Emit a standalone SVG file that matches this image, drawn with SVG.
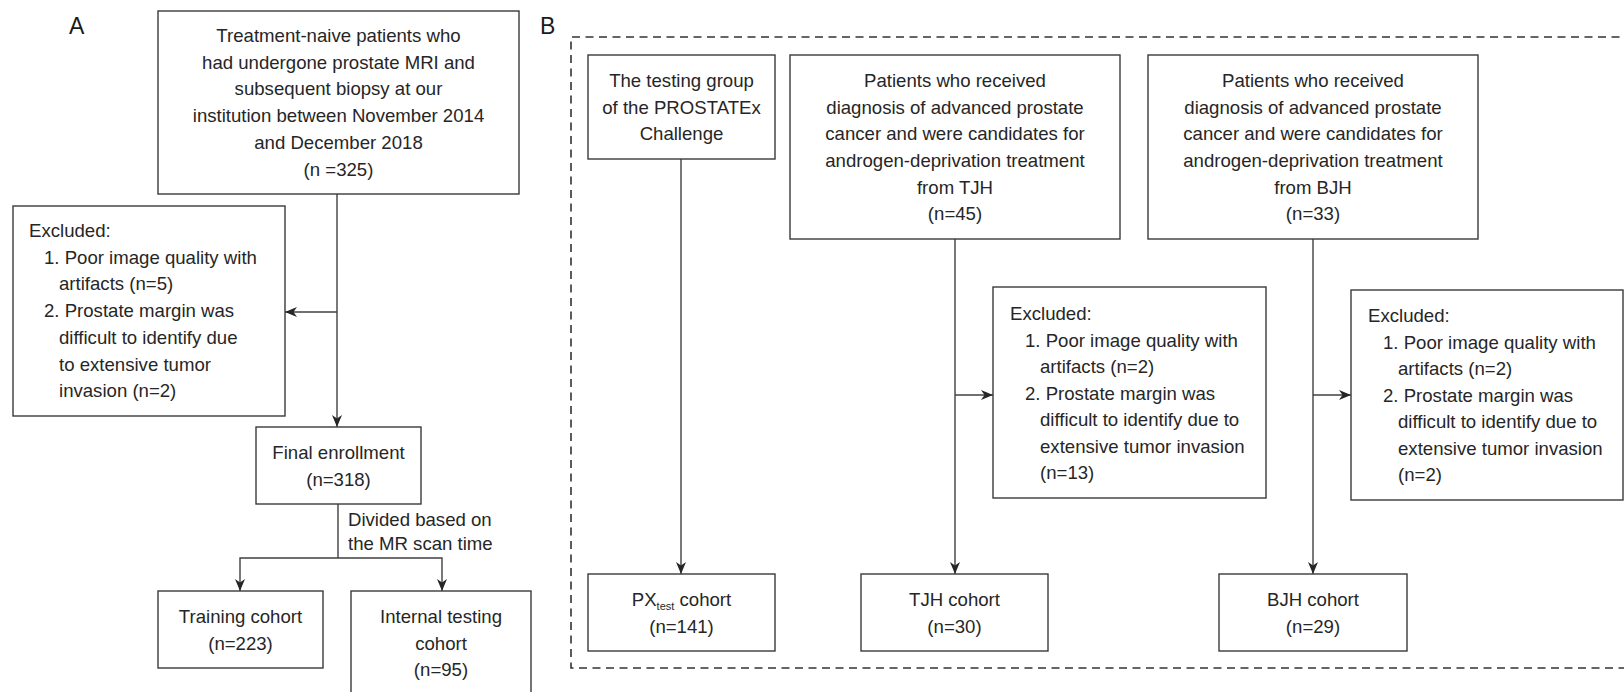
<svg xmlns="http://www.w3.org/2000/svg" width="1624" height="692" viewBox="0 0 1624 692">
<style>
text{font-family:"Liberation Sans",Arial,sans-serif;font-size:18.6px;fill:#262626}
.c{text-anchor:middle}
.lbl{font-size:23px;fill:#1a1a1a}
.box{fill:#fff;stroke:#3a3a3a;stroke-width:1.4}
.ln{fill:none;stroke:#404040;stroke-width:1.4}
.dash{fill:none;stroke:#333;stroke-width:1.6;stroke-dasharray:8 5.5}
.sub{font-size:11px}
</style>
<defs>
<marker id="ah" viewBox="0 0 12 10" refX="12" refY="5" markerWidth="12" markerHeight="10" markerUnits="userSpaceOnUse" orient="auto">
<path d="M0,0 L12,5 L0,10 L3.5,5 z" fill="#262626"/>
</marker>
</defs>
<rect width="1624" height="692" fill="#fff"/>
<text class="lbl" x="69" y="34">A</text>
<text class="lbl" x="540" y="34">B</text>
<path class="dash" d="M1660,37 H571 V668 H1660"/>
<g id="connectors">
<path class="ln" d="M337,194 V427" marker-end="url(#ah)"/>
<path class="ln" d="M337,312 H285" marker-end="url(#ah)"/>
<path class="ln" d="M338,504 V558"/>
<path class="ln" d="M338,558 H240 V591" marker-end="url(#ah)"/>
<path class="ln" d="M338,558 H442 V591" marker-end="url(#ah)"/>
<path class="ln" d="M681,159 V574" marker-end="url(#ah)"/>
<path class="ln" d="M955,239 V574" marker-end="url(#ah)"/>
<path class="ln" d="M955,395 H993" marker-end="url(#ah)"/>
<path class="ln" d="M1313,239 V574" marker-end="url(#ah)"/>
<path class="ln" d="M1313,395 H1351" marker-end="url(#ah)"/>
</g>
<g id="a-start">
<rect class="box" x="158" y="11" width="361" height="183"/>
<text class="c" x="338.5" y="42">Treatment-naive patients who</text>
<text class="c" x="338.5" y="68.7">had undergone prostate MRI and</text>
<text class="c" x="338.5" y="95.4">subsequent biopsy at our</text>
<text class="c" x="338.5" y="122">institution between November 2014</text>
<text class="c" x="338.5" y="148.8">and December 2018</text>
<text class="c" x="338.5" y="175.5">(n =325)</text>
</g>
<g id="a-excluded">
<rect class="box" x="13" y="206" width="272" height="210"/>
<text x="29" y="237">Excluded:</text>
<text x="44" y="263.5">1. Poor image quality with</text>
<text x="59" y="290">artifacts (n=5)</text>
<text x="44" y="317">2. Prostate margin was</text>
<text x="59" y="343.5">difficult to identify due</text>
<text x="59" y="370.5">to extensive tumor</text>
<text x="59" y="397">invasion (n=2)</text>
</g>
<g id="a-final">
<rect class="box" x="256" y="427" width="165" height="77"/>
<text class="c" x="338.5" y="459">Final enrollment</text>
<text class="c" x="338.5" y="485.5">(n=318)</text>
</g>
<g id="a-divided-label">
<text x="348" y="526">Divided based on</text>
<text x="348" y="549.5">the MR scan time</text>
</g>
<g id="a-training">
<rect class="box" x="158" y="591" width="165" height="77"/>
<text class="c" x="240.5" y="623">Training cohort</text>
<text class="c" x="240.5" y="649.5">(n=223)</text>
</g>
<g id="a-internal">
<rect class="box" x="351" y="591" width="180" height="120"/>
<text class="c" x="441" y="623">Internal testing</text>
<text class="c" x="441" y="649.5">cohort</text>
<text class="c" x="441" y="676">(n=95)</text>
</g>
<g id="b-prostatex">
<rect class="box" x="588" y="55" width="187" height="104"/>
<text class="c" x="681.5" y="87">The testing group</text>
<text class="c" x="681.5" y="113.5">of the PROSTATEx</text>
<text class="c" x="681.5" y="140">Challenge</text>
</g>
<g id="b-tjh">
<rect class="box" x="790" y="55" width="330" height="184"/>
<text class="c" x="955" y="87">Patients who received</text>
<text class="c" x="955" y="113.5">diagnosis of advanced prostate</text>
<text class="c" x="955" y="140">cancer and were candidates for</text>
<text class="c" x="955" y="167">androgen-deprivation treatment</text>
<text class="c" x="955" y="193.5">from TJH</text>
<text class="c" x="955" y="220">(n=45)</text>
</g>
<g id="b-bjh">
<rect class="box" x="1148" y="55" width="330" height="184"/>
<text class="c" x="1313" y="87">Patients who received</text>
<text class="c" x="1313" y="113.5">diagnosis of advanced prostate</text>
<text class="c" x="1313" y="140">cancer and were candidates for</text>
<text class="c" x="1313" y="167">androgen-deprivation treatment</text>
<text class="c" x="1313" y="193.5">from BJH</text>
<text class="c" x="1313" y="220">(n=33)</text>
</g>
<g id="b-tjh-excluded">
<rect class="box" x="993" y="287" width="273" height="211"/>
<text x="1010" y="320">Excluded:</text>
<text x="1025" y="346.5">1. Poor image quality with</text>
<text x="1040" y="373">artifacts (n=2)</text>
<text x="1025" y="399.5">2. Prostate margin was</text>
<text x="1040" y="426">difficult to identify due to</text>
<text x="1040" y="452.5">extensive tumor invasion</text>
<text x="1040" y="479">(n=13)</text>
</g>
<g id="b-bjh-excluded">
<rect class="box" x="1351" y="290" width="272" height="210"/>
<text x="1368" y="322">Excluded:</text>
<text x="1383" y="348.5">1. Poor image quality with</text>
<text x="1398" y="375">artifacts (n=2)</text>
<text x="1383" y="401.5">2. Prostate margin was</text>
<text x="1398" y="428">difficult to identify due to</text>
<text x="1398" y="454.5">extensive tumor invasion</text>
<text x="1398" y="481">(n=2)</text>
</g>
<g id="b-px-cohort">
<rect class="box" x="588" y="574" width="187" height="77"/>
<text class="c" x="681.5" y="606">PX<tspan class="sub" dy="4">test</tspan><tspan dy="-4"> cohort</tspan></text>
<text class="c" x="681.5" y="633">(n=141)</text>
</g>
<g id="b-tjh-cohort">
<rect class="box" x="861" y="574" width="187" height="77"/>
<text class="c" x="954.5" y="606">TJH cohort</text>
<text class="c" x="954.5" y="633">(n=30)</text>
</g>
<g id="b-bjh-cohort">
<rect class="box" x="1219" y="574" width="188" height="77"/>
<text class="c" x="1313" y="606">BJH cohort</text>
<text class="c" x="1313" y="633">(n=29)</text>
</g>
</svg>
